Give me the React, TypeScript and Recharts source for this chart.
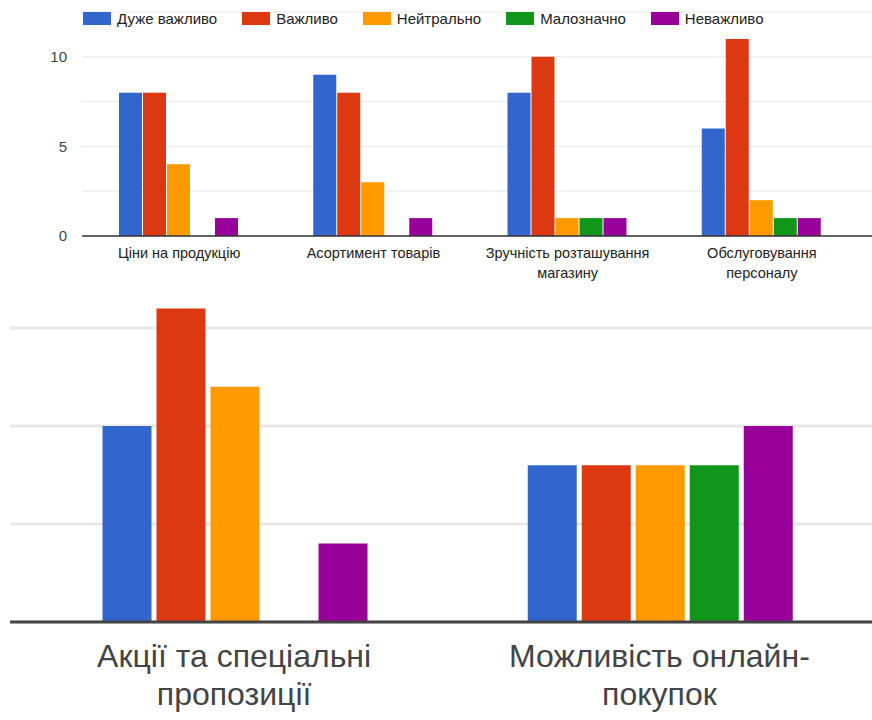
import { BarChart, Bar, XAxis, YAxis, CartesianGrid, Legend } from 'recharts';

// survey answers, one array per answer option
const seriesNames = ['Дуже важливо', 'Важливо', 'Нейтрально', 'Малозначно', 'Неважливо'];
const seriesKeys = ['veryImportant', 'important', 'neutral', 'minor', 'notImportant'];
const seriesColors = ['#3366cc', '#dc3912', '#ff9900', '#109618', '#990099'];

// factors, first block
const factorsTop = [
  'Ціни на продукцію',
  'Асортимент товарів',
  'Зручність розташування\nмагазину',
  'Обслуговування\nперсоналу',
];
const veryImportantTop = [8, 9, 8, 6];
const importantTop = [8, 8, 10, 11];
const neutralTop = [4, 3, 1, 2];
const minorTop = [0, 0, 1, 1];
const notImportantTop = [1, 1, 1, 1];

// factors, second block
const factorsBottom = ['Акції та спеціальні\nпропозиції', 'Можливість онлайн-\nпокупок'];
const veryImportantBottom = [5, 4];
const importantBottom = [8, 4];
const neutralBottom = [6, 4];
const minorBottom = [0, 4];
const notImportantBottom = [2, 5];

const topTicks = [0, 2.5, 5, 7.5, 10, 12.5];
const bottomTicks = [0, 2.5, 5, 7.5, 10];

const FONT = "'Liberation Sans', Arial, sans-serif";

function buildRows(names: string[], cols: number[][]) {
  return names.map((name, i) => {
    const row: Record<string, any> = { name };
    seriesKeys.forEach((k, s) => {
      row[k] = cols[s][i];
    });
    return row;
  });
}

const topData = buildRows(factorsTop, [veryImportantTop, importantTop, neutralTop, minorTop, notImportantTop]);
const bottomData = buildRows(factorsBottom, [
  veryImportantBottom,
  importantBottom,
  neutralBottom,
  minorBottom,
  notImportantBottom,
]);

function MultiLineTick({ x, y, payload, fontSize, fill, first, lineHeight }: any) {
  const lines = String(payload.value).split('\n');
  return (
    <g transform={`translate(${x},${y})`}>
      <text textAnchor="middle" fontSize={fontSize} fill={fill} fontFamily={FONT}>
        {lines.map((line, i) => (
          <tspan key={i} x={0} y={first + i * lineHeight}>
            {line}
          </tspan>
        ))}
      </text>
    </g>
  );
}

// keep legend entries in series order
function TopLegend({ payload }: any) {
  const items = [...(payload || [])].sort(
    (a: any, b: any) => seriesNames.indexOf(a.value) - seriesNames.indexOf(b.value)
  );
  return (
    <div style={{ display: 'flex', alignItems: 'center', fontFamily: FONT, fontSize: 15, color: '#222' }}>
      {items.map((item: any, i: number) => (
        <div key={i} style={{ display: 'flex', alignItems: 'center', marginRight: 25 }}>
          <div style={{ width: 28, height: 13, background: item.color, marginRight: 6 }} />
          <span>{item.value}</span>
        </div>
      ))}
    </div>
  );
}

export default function App() {
  return (
    <div style={{ position: 'absolute', left: 0, top: 0, width: 872, height: 720, background: '#fff', overflow: 'hidden' }}>
      <div style={{ position: 'absolute', left: 0, top: 0 }}>
        <BarChart
          width={872}
          height={290}
          data={topData}
          margin={{ top: 12, right: 0, left: 0, bottom: 0 }}
          barCategoryGap={37}
          barGap={1}
        >
          <CartesianGrid vertical={false} stroke="#e8e8e8" />
          <YAxis
            width={82}
            domain={[0, 12.5]}
            ticks={topTicks}
            tickFormatter={(v: number) => (v % 5 === 0 ? String(v) : '')}
            axisLine={false}
            tickLine={false}
            tickSize={0}
            tickMargin={15}
            tick={{ fontSize: 15, fill: '#444', fontFamily: FONT }}
          />
          <XAxis
            dataKey="name"
            height={54}
            padding={{ left: 0, right: 13 }}
            axisLine={{ stroke: '#333', strokeWidth: 1.5 }}
            tickLine={false}
            tickSize={0}
            tickMargin={0}
            interval={0}
            tick={<MultiLineTick fontSize={14.5} fill="#222" first={22} lineHeight={20} />}
          />
          <Legend
            layout="horizontal"
            verticalAlign="middle"
            align="center"
            content={<TopLegend />}
            wrapperStyle={{ top: 10, left: 83, width: 'auto' }}
          />
          {seriesKeys.map((k, i) => (
            <Bar key={k} dataKey={k} name={seriesNames[i]} fill={seriesColors[i]} isAnimationActive={false} />
          ))}
        </BarChart>
      </div>

      {/* second block: enlarged view, upper part cut off */}
      <div style={{ position: 'absolute', left: 0, top: 289, width: 872, height: 431, overflow: 'hidden' }}>
        <div style={{ position: 'absolute', left: 0, top: -59 }}>
          <BarChart
            width={872}
            height={490}
            data={bottomData}
            margin={{ top: 0, right: 0, left: 10, bottom: 0 }}
            barCategoryGap={81}
            barGap={5}
          >
            <CartesianGrid vertical={false} stroke="#e8e8e8" strokeWidth={3} />
            <YAxis hide domain={[0, 10]} ticks={bottomTicks} />
            <XAxis
              dataKey="name"
              height={98}
              padding={{ left: 11.5, right: 0 }}
              axisLine={{ stroke: '#444', strokeWidth: 3 }}
              tickLine={false}
              tickSize={0}
              tickMargin={0}
              interval={0}
              tick={<MultiLineTick fontSize={32} fill="#444" first={45} lineHeight={38} />}
            />
            {seriesKeys.map((k, i) => (
              <Bar key={k} dataKey={k} name={seriesNames[i]} fill={seriesColors[i]} isAnimationActive={false} />
            ))}
          </BarChart>
        </div>
      </div>
    </div>
  );
}
